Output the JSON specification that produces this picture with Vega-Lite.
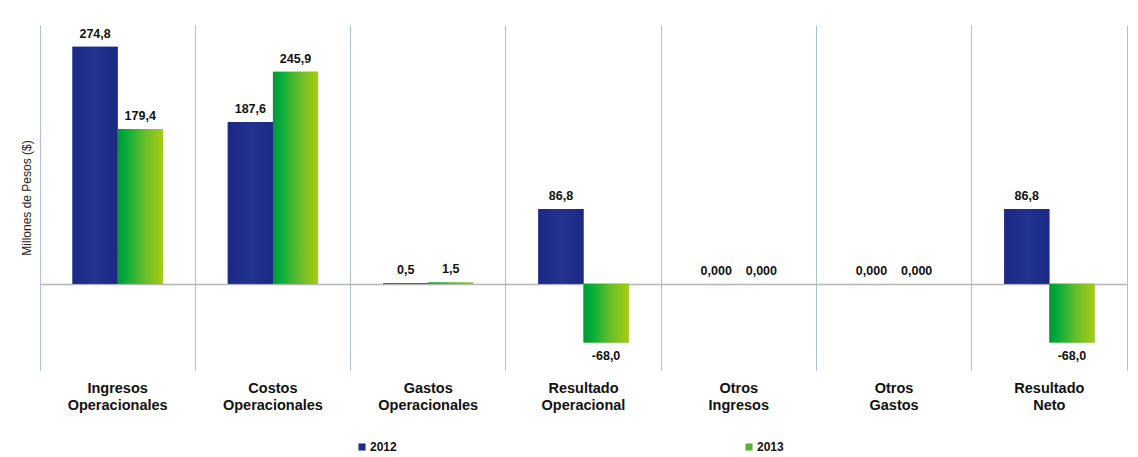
{
  "$schema": "https://vega.github.io/schema/vega-lite/v6.json",
  "width": 1087,
  "height": 345,
  "padding": {"left": 20, "top": 25, "right": 10, "bottom": 5},
  "background": "white",
  "config": {
    "font": "Liberation Sans",
    "view": {"stroke": null}
  },
  "data": {
    "values": [
      {"cat": "Ingresos Operacionales", "year": "2012", "value": 274.8, "label": "274,8"},
      {"cat": "Ingresos Operacionales", "year": "2013", "value": 179.4, "label": "179,4"},
      {"cat": "Costos Operacionales", "year": "2012", "value": 187.6, "label": "187,6"},
      {"cat": "Costos Operacionales", "year": "2013", "value": 245.9, "label": "245,9"},
      {"cat": "Gastos Operacionales", "year": "2012", "value": 0.5, "label": "0,5"},
      {"cat": "Gastos Operacionales", "year": "2013", "value": 1.5, "label": "1,5"},
      {"cat": "Resultado Operacional", "year": "2012", "value": 86.8, "label": "86,8"},
      {"cat": "Resultado Operacional", "year": "2013", "value": -68.0, "label": "-68,0"},
      {"cat": "Otros Ingresos", "year": "2012", "value": 0, "label": "0,000"},
      {"cat": "Otros Ingresos", "year": "2013", "value": 0, "label": "0,000"},
      {"cat": "Otros Gastos", "year": "2012", "value": 0, "label": "0,000"},
      {"cat": "Otros Gastos", "year": "2013", "value": 0, "label": "0,000"},
      {"cat": "Resultado Neto", "year": "2012", "value": 86.8, "label": "86,8"},
      {"cat": "Resultado Neto", "year": "2013", "value": -68.0, "label": "-68,0"}
    ]
  },
  "encoding": {
    "x": {
      "field": "cat",
      "type": "nominal",
      "sort": null,
      "scale": {"paddingInner": 0, "paddingOuter": 0},
      "axis": {
        "title": null,
        "domain": false,
        "ticks": false,
        "grid": true,
        "bandPosition": 0,
        "gridColor": "#aebfdc",
        "gridWidth": 1,
        "labelAngle": 0,
        "labelPadding": 11,
        "labelFontSize": 14.5,
        "labelFontWeight": "bold",
        "labelColor": "#111111",
        "labelLineHeight": 17,
        "labelExpr": "split(datum.label, ' ')"
      }
    },
    "xOffset": {
      "field": "year",
      "type": "nominal",
      "scale": {"paddingInner": 0, "paddingOuter": 0.72}
    }
  },
  "layer": [
    {
      "mark": {"type": "bar"},
      "encoding": {
        "y": {
          "field": "value",
          "type": "quantitative",
          "scale": {"domain": [-100, 300], "nice": false},
          "axis": {
            "title": "Millones de Pesos ($)",
            "titleFontSize": 12,
            "titleFontWeight": "normal",
            "titleColor": "#222222",
            "titlePadding": 7,
            "labels": false,
            "ticks": false,
            "domain": true,
            "domainColor": "#aebfdc",
            "grid": true,
            "values": [0],
            "gridColor": "#b5b5b5",
            "gridWidth": 1.5
          }
        },
        "color": {
          "field": "year",
          "type": "nominal",
          "scale": {"domain": ["2012", "2013"], "range": ["#1f2e8c", "#4cb832"]},
          "legend": {
            "title": null,
            "orient": "none",
            "legendX": 316,
            "legendY": 416,
            "direction": "horizontal",
            "columnPadding": 346,
            "symbolType": "square",
            "symbolSize": 50,
            "symbolStrokeWidth": 0,
            "labelFontSize": 12,
            "labelFontWeight": "bold",
            "labelColor": "#111111",
            "labelOffset": 2
          }
        }
      }
    },
    {
      "mark": {"type": "bar"},
      "encoding": {
        "y": {"field": "value", "type": "quantitative", "axis": null},
        "fill": {
          "condition": {
            "test": "datum.year === '2013'",
            "value": {"gradient": "linear", "x1": 0, "y1": 0, "x2": 1, "y2": 0,
              "stops": [{"offset": 0, "color": "#00983a"}, {"offset": 0.2, "color": "#08ad3a"}, {"offset": 0.6, "color": "#68bd2a"}, {"offset": 1, "color": "#a9cb10"}]}
          },
          "value": {"gradient": "linear", "x1": 0, "y1": 0, "x2": 1, "y2": 0,
            "stops": [{"offset": 0, "color": "#1b2984"}, {"offset": 0.5, "color": "#22328f"}, {"offset": 1, "color": "#1b2984"}]}
        }
      }
    },
    {
      "mark": {
        "type": "text",
        "fontSize": 12.5,
        "fontWeight": "bold",
        "color": "#111111",
        "baseline": {"expr": "datum.value < 0 ? 'top' : 'bottom'"},
        "dy": {"expr": "datum.value < 0 ? 8 : -6"}
      },
      "encoding": {
        "y": {
          "field": "value",
          "type": "quantitative",
          "axis": {
            "orient": "right",
            "title": null,
            "labels": false,
            "ticks": false,
            "grid": false,
            "domain": true,
            "domainColor": "#aebfdc"
          }
        },
        "text": {"field": "label"}
      }
    }
  ],
  "resolve": {"axis": {"y": "independent"}}
}
